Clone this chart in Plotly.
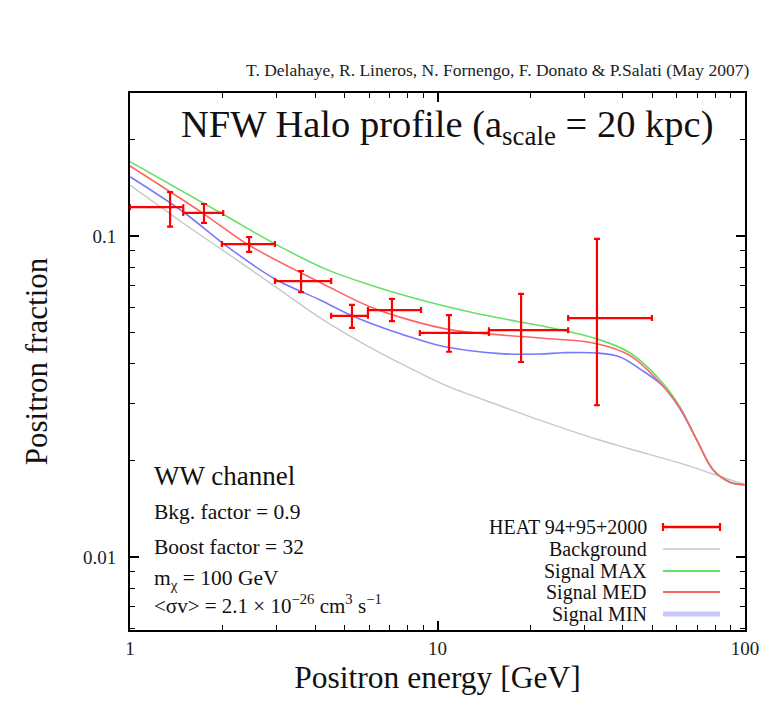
import plotly.graph_objects as go

# ---------------- data ----------------
heat_E = [1.35, 1.74, 2.44, 3.60, 5.27, 7.11, 10.9, 18.7, 33.0]
heat_f = [0.123, 0.118, 0.0944, 0.0724, 0.0564, 0.0588, 0.0499, 0.0509, 0.0555]
heat_E_lo = [1.0, 1.49, 1.99, 2.96, 4.51, 5.94, 8.76, 14.7, 26.6]
heat_E_hi = [1.49, 2.01, 2.96, 4.51, 5.94, 8.84, 14.7, 26.6, 49.8]
heat_f_lo = [0.107, 0.1098, 0.0892, 0.0669, 0.0517, 0.0543, 0.0436, 0.0405, 0.0297]
heat_f_hi = [0.137, 0.1258, 0.0993, 0.0778, 0.0610, 0.0637, 0.0567, 0.0660, 0.0979]

bkg_E = [1.0, 1.487, 2.04, 2.96, 4.15, 6.03, 8.77, 10.98, 15.97, 21.5, 33.8, 42.3, 61.5, 78.7, 100.0]
bkg_f = [0.144, 0.1098, 0.0892, 0.0697, 0.0556, 0.0450, 0.0374, 0.0338, 0.0296, 0.0267, 0.0231, 0.0217, 0.0196, 0.01814, 0.0168]

max_E = [1.0, 1.987, 2.96, 4.31, 6.03, 8.77, 12.76, 18.5, 21.5, 33.0, 42.3, 54.1, 61.5, 69.8, 78.7, 89.4, 100.0]
max_f = [0.1704, 0.1175, 0.0945, 0.0790, 0.0704, 0.0633, 0.0580, 0.0540, 0.0526, 0.0478, 0.0432, 0.0348, 0.0293, 0.0231, 0.0187, 0.0171, 0.0168]

med_E = [1.0, 1.727, 2.42, 4.31, 6.03, 8.14, 11.2, 21.5, 33.0, 42.3, 54.1, 61.5, 69.8, 78.7, 89.4, 100.0]
med_f = [0.1652, 0.1177, 0.0940, 0.0704, 0.0602, 0.0547, 0.0509, 0.0481, 0.0462, 0.0424, 0.0341, 0.0291, 0.0231, 0.0187, 0.0171, 0.0168]

min_E = [1.0, 1.487, 2.04, 2.96, 4.15, 5.27, 6.85, 8.77, 10.8, 15.97, 21.5, 25.6, 33.0, 39.2, 45.6, 54.1, 61.5, 69.8, 78.7, 89.4, 100.0]
min_f = [0.153, 0.119, 0.0937, 0.0735, 0.0632, 0.0564, 0.0512, 0.0474, 0.0450, 0.0430, 0.0429, 0.0433, 0.0432, 0.0420, 0.0385, 0.0341, 0.0289, 0.0231, 0.0187, 0.0171, 0.0168]

x_major = [1, 10, 100]
x_major_text = ["1", "10", "100"]
y_major = [0.01, 0.1]
y_major_text = ["0.01", "0.1"]

FONT = "Liberation Serif, Times New Roman, serif"
C_BKG = "#c8c8c8"
C_MAX = "#66e066"
C_MED = "#ff6464"
C_MIN = "#7878ff"
C_HEAT = "#ff0000"

fig = go.Figure()

def curve(E, f, color, width=1.6):
    fig.add_trace(go.Scatter(x=E, y=f, mode="lines", line=dict(color=color, width=width, shape="spline", smoothing=1.0),
                             showlegend=False, hoverinfo="skip"))

curve(bkg_E, bkg_f, C_BKG, 1.4)
curve(min_E, min_f, C_MIN)
curve(max_E, max_f, C_MAX)
curve(med_E, med_f, C_MED)

fig.add_trace(go.Scatter(
    x=heat_E, y=heat_f, mode="markers",
    marker=dict(color=C_HEAT, size=3),
    error_x=dict(type="data", symmetric=False,
                 array=[h - e for h, e in zip(heat_E_hi, heat_E)],
                 arrayminus=[e - l for e, l in zip(heat_E, heat_E_lo)],
                 color=C_HEAT, thickness=2.2, width=3),
    error_y=dict(type="data", symmetric=False,
                 array=[h - f for h, f in zip(heat_f_hi, heat_f)],
                 arrayminus=[f - l for f, l in zip(heat_f, heat_f_lo)],
                 color=C_HEAT, thickness=2.2, width=3),
    showlegend=False, hoverinfo="skip"))

x_minor = [m * d for d in (1, 10) for m in range(2, 10)]
y_minor = [0.006, 0.007, 0.008, 0.009] + [m * 0.01 for m in range(2, 10)] + [0.2]

axis_common = dict(type="log", showgrid=False, zeroline=False, showline=True, linecolor="black", linewidth=2,
                   mirror="ticks", ticks="inside", ticklen=9, tickwidth=1.5, tickcolor="black",
                   tickfont=dict(family=FONT, size=19, color="#222"))

fig.update_xaxes(**axis_common, range=[0, 2], tickmode="array", tickvals=x_major, ticktext=x_major_text,
                 minor=dict(tickvals=x_minor, ticks="inside", ticklen=5, tickcolor="black", tickwidth=1.2),
                 title=dict(text="Positron energy [GeV]", font=dict(family=FONT, size=31.5, color="#111"), standoff=8))
fig.update_yaxes(**axis_common, range=[-2.2274, -0.5545], tickmode="array", tickvals=y_major, ticktext=y_major_text,
                 minor=dict(tickvals=y_minor, ticks="inside", ticklen=5, tickcolor="black", tickwidth=1.2),
                 ticklabelstandoff=8,
                 title=dict(text="Positron fraction", font=dict(family=FONT, size=31, color="#111"), standoff=26))

L, R, T, B = 130, 20, 93, 73
W, H = 765, 703
pw, ph = W - L - R, H - T - B

def px(xp):
    return (xp - L) / pw

def py(yp):
    return (H - B - yp) / ph

ann = []
ann.append(dict(text="T. Delahaye, R. Lineros, N. Fornengo, F. Donato &amp; P.Salati (May 2007)",
                x=px(751), y=py(70), xanchor="right", yanchor="middle", font=dict(family=FONT, size=17.5, color="#222")))
ann.append(dict(text="NFW Halo profile (a<sub>scale</sub> = 20 kpc)", x=px(447), y=py(127), xanchor="center",
                yanchor="middle", font=dict(family=FONT, size=38.5, color="#111")))
info = [("WW channel", 476, 27),
        ("Bkg. factor = 0.9", 512, 21.5),
        ("Boost factor = 32", 547, 21.5),
        ("m<sub>χ</sub> = 100 GeV", 579, 21.5),
        ("&lt;σv&gt; = 2.1 × 10<sup>−26</sup> cm<sup>3</sup> s<sup>−1</sup>", 604, 21)]
for t, yy, s in info:
    ann.append(dict(text=t, x=px(152), y=py(yy), xanchor="left", yanchor="middle",
                    font=dict(family=FONT, size=s, color="#111")))

legend_items = [("HEAT 94+95+2000", 527, C_HEAT, 2.5),
                ("Background", 549, C_BKG, 1.5),
                ("Signal MAX", 571, C_MAX, 2),
                ("Signal MED", 592, C_MED, 2),
                ("Signal MIN", 614, "#c8c8ff", 5)]
shapes = []
for t, yy, c, w in legend_items:
    ann.append(dict(text=t, x=px(649), y=py(yy), xanchor="right", yanchor="middle",
                    font=dict(family=FONT, size=20, color="#111")))
    shapes.append(dict(type="line", xref="paper", yref="paper", x0=px(663), x1=px(720), y0=py(yy), y1=py(yy),
                       line=dict(color=c, width=w)))
for xc in (663, 720):
    shapes.append(dict(type="line", xref="paper", yref="paper", x0=px(xc), x1=px(xc), y0=py(523), y1=py(531),
                       line=dict(color=C_HEAT, width=2.2)))

for a in ann:
    a.update(xref="paper", yref="paper", showarrow=False)

fig.update_layout(width=W, height=H, margin=dict(l=L, r=R, t=T, b=B, autoexpand=False),
                  paper_bgcolor="white", plot_bgcolor="white", showlegend=False,
                  annotations=ann, shapes=shapes)

fig.write_html("out.html")
